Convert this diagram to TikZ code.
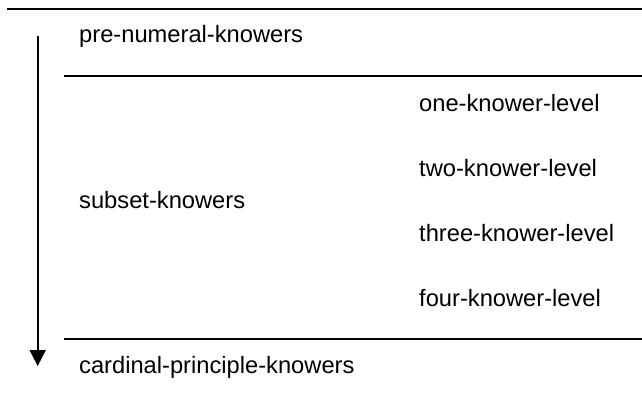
\documentclass[tikz,border=0pt]{standalone}
\usepackage{fontspec}
\setmainfont{Liberation Sans}
\usetikzlibrary{arrows.meta}
\begin{document}
\begin{tikzpicture}[x=1pt,y=-1pt,
  lbl/.style={anchor=west,inner sep=0pt,font=\fontsize{23.7}{27}\selectfont},
  rule/.style={line width=2pt},
  flow/.style={line width=2pt,-{Triangle[width=16pt,length=16pt]}}]
\useasboundingbox[fill=white] (0,0) rectangle (642,402);
\coordinate (r1a) at (7,8.5);   \coordinate (r1b) at (642,8.5);
\coordinate (r2a) at (64,76);   \coordinate (r2b) at (642,76);
\coordinate (r3a) at (64,339);  \coordinate (r3b) at (642,339);
\draw[rule] (r1a) -- (r1b);
\draw[rule] (r2a) -- (r2b);
\draw[rule] (r3a) -- (r3b);
\coordinate (atop) at (37.7,36);
\coordinate (abot) at (37.7,366);
\draw[flow] (atop) -- (abot);
\node[lbl] (pre) at (79,36) {pre-numeral-knowers};
\node[lbl] (sub) at (79,200) {subset-knowers};
\node[lbl] (card) at (79,367) {cardinal-principle-knowers};
\node[lbl] (one) at (419,103) {one-knower-level};
\node[lbl] (two) at (419,168) {two-knower-level};
\node[lbl] (three) at (419,233) {three-knower-level};
\node[lbl] (four) at (419,298) {four-knower-level};
\end{tikzpicture}
\end{document}
